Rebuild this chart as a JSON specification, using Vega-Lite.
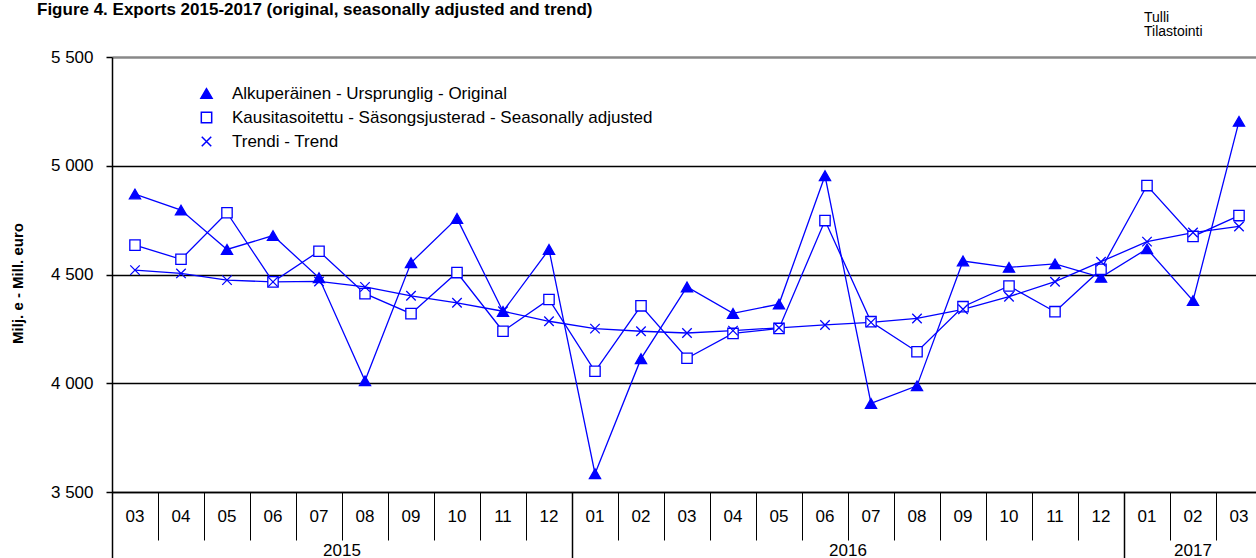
{
  "$schema": "https://vega.github.io/schema/vega-lite/v6.json",
  "width": 1150,
  "height": 435,
  "autosize": {"type": "none"},
  "padding": {"left": 112, "top": 57, "right": 0, "bottom": 66},
  "background": "white",
  "config": {"view": {"stroke": null}, "font": "Liberation Sans"},
  "title": {
    "text": "Figure  4. Exports 2015-2017 (original, seasonally adjusted and trend)",
    "anchor": "start",
    "frame": "group",
    "dx": -75,
    "font": "Liberation Sans",
    "fontSize": 17,
    "fontWeight": "bold",
    "color": "black",
    "offset": -8
  },
  "data": {
    "values": [
      {"m": "2015-03", "A": 4870, "K": 4635, "T": 4520},
      {"m": "2015-04", "A": 4796, "K": 4570, "T": 4505},
      {"m": "2015-05", "A": 4615, "K": 4784, "T": 4474},
      {"m": "2015-06", "A": 4679, "K": 4466, "T": 4466},
      {"m": "2015-07", "A": 4485, "K": 4607, "T": 4468},
      {"m": "2015-08", "A": 4011, "K": 4412, "T": 4443},
      {"m": "2015-09", "A": 4554, "K": 4320, "T": 4402},
      {"m": "2015-10", "A": 4758, "K": 4509, "T": 4370},
      {"m": "2015-11", "A": 4330, "K": 4239, "T": 4331},
      {"m": "2015-12", "A": 4615, "K": 4385, "T": 4285},
      {"m": "2016-01", "A": 3584, "K": 4055, "T": 4251},
      {"m": "2016-02", "A": 4113, "K": 4356, "T": 4239},
      {"m": "2016-03", "A": 4443, "K": 4115, "T": 4231},
      {"m": "2016-04", "A": 4321, "K": 4229, "T": 4242},
      {"m": "2016-05", "A": 4364, "K": 4252, "T": 4255},
      {"m": "2016-06", "A": 4954, "K": 4748, "T": 4268},
      {"m": "2016-07", "A": 3907, "K": 4283, "T": 4280},
      {"m": "2016-08", "A": 3988, "K": 4145, "T": 4298},
      {"m": "2016-09", "A": 4562, "K": 4352, "T": 4340},
      {"m": "2016-10", "A": 4533, "K": 4447, "T": 4398},
      {"m": "2016-11", "A": 4549, "K": 4329, "T": 4467},
      {"m": "2016-12", "A": 4487, "K": 4524, "T": 4559},
      {"m": "2017-01", "A": 4618, "K": 4909, "T": 4651},
      {"m": "2017-02", "A": 4380, "K": 4675, "T": 4693},
      {"m": "2017-03", "A": 5204, "K": 4771, "T": 4721}
    ]
  },
  "resolve": {"axis": {"x": "independent"}},
  "layer": [
    {
      "transform": [{"fold": ["A", "K", "T"], "as": ["series", "value"]}],
      "mark": {"type": "line", "strokeWidth": 1.3},
      "encoding": {
        "x": {
          "field": "m",
          "type": "ordinal",
          "scale": {"type": "band", "paddingInner": 0, "paddingOuter": 0},
          "axis": {
            "orient": "bottom",
            "title": null,
            "labelExpr": "slice(datum.value, 5)",
            "bandPosition": 0,
            "tickSize": 48,
            "tickColor": "black",
            "tickWidth": 1,
            "domainColor": "black",
            "domainWidth": 1.5,
            "labelFont": "Liberation Sans",
            "labelFontSize": 17,
            "labelColor": "black",
            "labelAngle": 0,
            "labelPadding": -32,
            "grid": false
          }
        },
        "y": {
          "field": "value",
          "type": "quantitative",
          "scale": {"domain": [3500, 5500], "nice": false, "zero": false},
          "axis": {
            "values": [3500, 4000, 4500, 5000, 5500],
            "labelExpr": "replace(format(datum.value, ','), ',', ' ')",
            "title": "Milj. e - Mill. euro",
            "titleFont": "Liberation Sans",
            "titleFontSize": 15,
            "titleFontWeight": "bold",
            "titleColor": "black",
            "titleX": -87,
            "titleY": 226,
            "labelFont": "Liberation Sans",
            "labelFontSize": 17,
            "labelColor": "black",
            "labelPadding": 13,
            "tickSize": 6,
            "tickColor": "black",
            "tickWidth": 1.5,
            "domainColor": "black",
            "domainWidth": 1.5,
            "grid": true,
            "gridColor": {"condition": {"test": "datum.value == 5500", "value": "#888888"}, "value": "black"},
            "gridWidth": {"condition": {"test": "datum.value == 5500", "value": 2.5}, "value": 1.5}
          }
        },
        "color": {
          "field": "series",
          "type": "nominal",
          "scale": {"domain": ["A", "K", "T"], "range": ["#0000ff", "#0000ff", "#0000ff"]},
          "legend": {
            "orient": "none",
            "legendX": 86,
            "legendY": 28,
            "title": null,
            "padding": 0,
            "labelFont": "Liberation Sans",
            "labelFontSize": 17,
            "labelColor": "black",
            "labelLimit": 0,
            "labelExpr": "datum.value == 'A' ? 'Alkuperäinen - Ursprunglig - Original' : datum.value == 'K' ? 'Kausitasoitettu - Säsongsjusterad - Seasonally adjusted' : 'Trendi - Trend'",
            "labelOffset": 17,
            "rowPadding": 6
          }
        }
      }
    },
    {
      "transform": [{"fold": ["A", "K", "T"], "as": ["series", "value"]}],
      "mark": {"type": "point", "filled": true, "strokeWidth": 1.3, "opacity": 1},
      "encoding": {
        "x": {
          "field": "m",
          "type": "ordinal",
          "axis": {
            "orient": "bottom",
            "title": null,
            "values": ["2015-03", "2016-01", "2017-01"],
            "bandPosition": 0,
            "tickSize": 66,
            "tickColor": "black",
            "tickWidth": 1.5,
            "labels": false,
            "domain": false,
            "grid": false
          }
        },
        "y": {"field": "value", "type": "quantitative"},
        "shape": {
          "field": "series",
          "type": "nominal",
          "scale": {"domain": ["A", "K", "T"], "range": ["triangle-up", "square", "M-1,-1L1,1M-1,1L1,-1"]},
          "legend": null
        },
        "fill": {
          "field": "series",
          "type": "nominal",
          "scale": {"domain": ["A", "K", "T"], "range": ["#0000ff", "#ffffff", "transparent"]},
          "legend": null
        },
        "size": {
          "field": "series",
          "type": "nominal",
          "scale": {"domain": ["A", "K", "T"], "range": [125, 90, 150]},
          "legend": null
        },
        "stroke": {"value": "#0000ff"}
      }
    },
    {
      "data": {"values": [{"label": "Tulli\nTilastointi"}]},
      "mark": {"type": "text", "align": "left", "baseline": "bottom", "lineBreak": "\n", "lineHeight": 14, "font": "Liberation Sans", "fontSize": 14, "color": "black", "dx": -3, "dy": -32},
      "encoding": {
        "x": {
          "datum": "2017-01",
          "type": "ordinal",
          "axis": {
            "orient": "bottom",
            "title": null,
            "values": ["2015-08", "2016-07", "2017-02"],
            "labelExpr": "slice(datum.value, 0, 4)",
            "labelOffset": {"condition": {"test": "datum.value == '2017-02'", "value": 0}, "value": -23},
            "ticks": false,
            "domain": false,
            "offset": 48,
            "labelPadding": 2,
            "labelFont": "Liberation Sans",
            "labelFontSize": 17,
            "labelColor": "black",
            "labelAngle": 0,
            "grid": false
          }
        },
        "y": {"datum": 5500, "type": "quantitative"},
        "text": {"field": "label"}
      }
    }
  ]
}
